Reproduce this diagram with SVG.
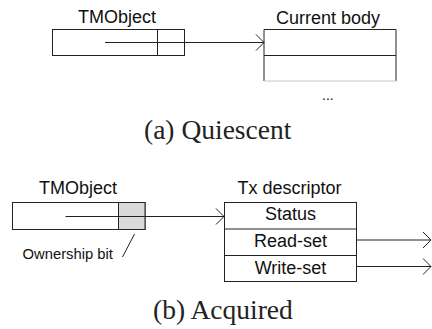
<svg xmlns="http://www.w3.org/2000/svg" width="432" height="329" viewBox="0 0 432 329">
<defs>
<style>
.box{fill:#fff;stroke:#222;stroke-width:1}
.ln{fill:none;stroke:#222;stroke-width:1}
.lbl{font-family:"Liberation Sans",Arial,sans-serif;font-size:18px;fill:#111}
.cap{font-family:"Liberation Serif","Times New Roman",serif;font-size:27.5px;fill:#222}
</style>
<marker id="arr" markerWidth="10" markerHeight="18" refX="9" refY="9" orient="auto" markerUnits="userSpaceOnUse">
<path d="M1,1 L9,9 L1,17" fill="none" stroke="#222" stroke-width="1"/>
</marker>
</defs>
<rect width="432" height="329" fill="#fff"/>

<g id="tmobject-a">
<text class="lbl" x="78" y="23">TMObject</text>
<rect class="box" x="52.5" y="29.5" width="132" height="26"/>
<line class="ln" x1="157.5" y1="29.5" x2="157.5" y2="55.5"/>
</g>

<g id="current-body">
<text class="lbl" x="276" y="24">Current body</text>
<line class="ln" x1="264" y1="29.5" x2="396" y2="29.5"/>
<line class="ln" x1="264" y1="55.5" x2="396" y2="55.5"/>
<line class="ln" x1="264" y1="29.5" x2="264" y2="81"/>
<line class="ln" x1="396" y1="29.5" x2="396" y2="81"/>
<line x1="264" y1="81" x2="396" y2="81" stroke="#c8c8c8" stroke-width="1"/>
<text class="lbl" x="322" y="100" style="font-size:14px">...</text>
</g>

<text id="caption-a" class="cap" x="144" y="139">(a) Quiescent</text>

<g id="tmobject-b">
<text class="lbl" x="39" y="194">TMObject</text>
<rect class="box" x="12.5" y="202.5" width="132.5" height="27"/>
<rect x="118.5" y="202.5" width="26.5" height="27" fill="#d9d9d9" stroke="#222" stroke-width="1"/>
<text class="lbl" x="22.5" y="259" style="font-size:14.8px">Ownership bit</text>
<line class="ln" x1="122.5" y1="257" x2="134.5" y2="234"/>
</g>

<g id="tx-descriptor">
<text class="lbl" x="237.5" y="194">Tx descriptor</text>
<rect class="box" x="224.5" y="202.5" width="132" height="79"/>
<line class="ln" x1="224.5" y1="229" x2="356.5" y2="229"/>
<line class="ln" x1="224.5" y1="255.5" x2="356.5" y2="255.5"/>
<text class="lbl" x="290.5" y="220" text-anchor="middle">Status</text>
<text class="lbl" x="290.5" y="247" text-anchor="middle">Read-set</text>
<text class="lbl" x="290.5" y="273.5" text-anchor="middle">Write-set</text>
</g>

<text id="caption-b" class="cap" x="153" y="319">(b) Acquired</text>

<g id="connectors">
<line class="ln" x1="105" y1="42.5" x2="264" y2="42.5" marker-end="url(#arr)"/>
<line class="ln" x1="65.5" y1="216.5" x2="224" y2="216.5" marker-end="url(#arr)"/>
<line class="ln" x1="356.5" y1="240" x2="431" y2="240" marker-end="url(#arr)"/>
<line class="ln" x1="356.5" y1="266.5" x2="431" y2="266.5" marker-end="url(#arr)"/>
</g>
</svg>
